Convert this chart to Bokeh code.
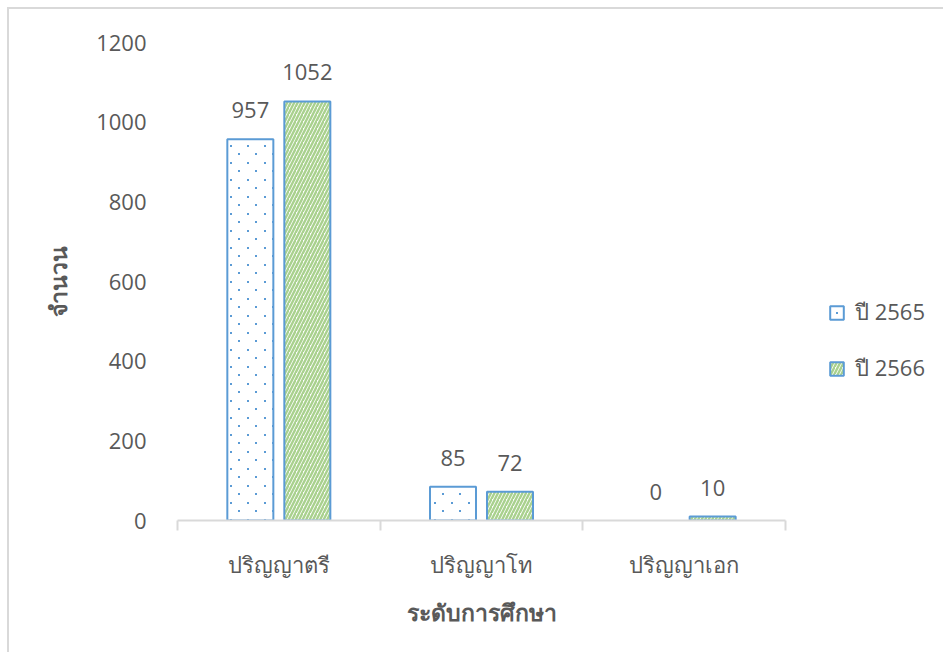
from bokeh.plotting import figure
from bokeh.models import (ColumnDataSource, Range1d, FixedTicker, Legend, LegendItem,
                          LabelSet, SingleIntervalTicker, CanvasTexture, Title)
from bokeh.core.properties import value
from bokeh.embed import file_html
from bokeh.resources import INLINE

categories = ["ปริญญาตรี", "ปริญญาโท", "ปริญญาเอก"]
series_names = ["ปี 2565", "ปี 2566"]
y2565 = [957, 85, 0]
y2566 = [1052, 72, 10]
x_title = "ระดับการศึกษา"
y_title = "จำนวน"

FONT = "Open Sans"
TXT = "#595959"
GRID = "#d9d9d9"
BLUE = "#5b9bd5"
GREEN = "#a9d18e"

centers = [i + 0.5 for i in range(len(categories))]
off = 0.1406
bw = 0.227

src1 = ColumnDataSource(dict(x=[c - off for c in centers], top=y2565,
                             la=[1 if v > 0 else 0 for v in y2565],
                             hp=["dots"] * len(y2565),
                             lbl=[str(v) for v in y2565]))
src2 = ColumnDataSource(dict(x=[c + off for c in centers], top=y2566,
                             la=[1 if v > 0 else 0 for v in y2566],
                             lbl=[str(v) for v in y2566]))

W, H = 936, 645
FL, FT, FB = 168, 33, 511          # frame left / top / bottom in canvas px
CAT_PX = 608                        # width in px taken by the 3 categories
x_end = 3 * (W - FL) / CAT_PX

p = figure(width=W, height=H, output_backend="svg", toolbar_location=None,
           x_range=Range1d(0, x_end), y_range=Range1d(0, 1200),
           min_border_left=FL, min_border_right=0,
           min_border_top=FT, min_border_bottom=H - FB)
p.styles = {"margin-left": "7px", "margin-top": "7px",
            "border-left": "2px solid #d9d9d9", "border-top": "2px solid #d9d9d9"}
p.outline_line_color = None
p.background_fill_color = "white"
p.border_fill_color = "white"

dots = CanvasTexture(code="""
var cands = [ctx, color, scale, weight, this];
var c = null;
for (var k = 0; k < cands.length; k++) {
  var o = cands[k];
  if (o && typeof o.fillRect === "function") { c = o; break; }
  if (o && o.ctx && typeof o.ctx.fillRect === "function") { c = o.ctx; break; }
}
if (c) {
  if (c.canvas && c.canvas.width !== 17) { try { c.canvas.width = 17; c.canvas.height = 17; } catch (e) {} }
  c.clearRect(0, 0, 17, 17);
  c.fillStyle = "#5b9bd5";
  c.fillRect(0, 0, 2, 2);
  c.fillRect(8, 8, 2, 2);
}
""", repetition="repeat")

r1 = p.vbar(x="x", top="top", width=bw, source=src1, fill_color="white",
            line_color=BLUE, line_width=2, line_alpha="la",
            hatch_pattern="hp", hatch_extra={"dots": dots},
            hatch_color=BLUE, hatch_scale=17, hatch_weight=1)
r2 = p.vbar(x="x", top="top", width=bw, source=src2, fill_color="white",
            line_color=BLUE, line_width=2, line_alpha="la",
            hatch_pattern="/", hatch_color=GREEN, hatch_scale=7, hatch_weight=2.4)

for s in (src1, src2):
    p.add_layout(LabelSet(x="x", y="top", text="lbl", source=s, text_align="center",
                          text_baseline="middle", y_offset=29, text_font=value(FONT),
                          text_font_size=value("22px"), text_color=TXT))

# x axis
p.xaxis.bounds = (0, 3)
p.xaxis.ticker = FixedTicker(ticks=centers, minor_ticks=[0, 1, 2, 3])
p.xaxis.major_label_overrides = {c: lab for c, lab in zip(centers, categories)}
p.xaxis.major_tick_line_color = None
p.xaxis.major_tick_out = 0
p.xaxis.major_tick_in = 0
p.xaxis.minor_tick_line_color = GRID
p.xaxis.minor_tick_line_width = 2
p.xaxis.minor_tick_out = 10
p.xaxis.minor_tick_in = 0
p.xaxis.axis_line_color = GRID
p.xaxis.axis_line_width = 2
p.xaxis.major_label_text_font = FONT
p.xaxis.major_label_text_font_size = "22px"
p.xaxis.major_label_text_color = TXT
p.xaxis.major_label_standoff = 18

xt = Title(text=x_title, align="left", offset=229, standoff=24,
           text_font=FONT, text_font_size="23px", text_font_style="bold",
           text_color=TXT)
p.add_layout(xt, "below")

# y axis
p.yaxis.ticker = SingleIntervalTicker(interval=200)
p.yaxis.axis_line_color = None
p.yaxis.major_tick_line_color = None
p.yaxis.minor_tick_line_color = None
p.yaxis.major_tick_out = 0
p.yaxis.major_label_standoff = 27
p.yaxis.major_label_text_font = FONT
p.yaxis.major_label_text_font_size = "22px"
p.yaxis.major_label_text_color = TXT
p.yaxis.axis_label = y_title
p.yaxis.axis_label_text_font = FONT
p.yaxis.axis_label_text_font_size = "23px"
p.yaxis.axis_label_text_font_style = "bold"
p.yaxis.axis_label_text_color = TXT
p.yaxis.axis_label_standoff = 19

p.xgrid.grid_line_color = None
p.ygrid.grid_line_color = GRID
p.ygrid.grid_line_width = 1
p.ygrid.bounds = (0, 3)

legend = Legend(items=[LegendItem(label=series_names[0], renderers=[r1]),
                       LegendItem(label=series_names[1], renderers=[r2])],
                location=(651, 134), orientation="vertical",
                label_text_font=FONT, label_text_font_size="22px", label_text_color=TXT,
                glyph_width=17, glyph_height=17, label_standoff=10, spacing=21,
                padding=0, margin=0, border_line_color=None, background_fill_alpha=0)
p.add_layout(legend)

open("out.html", "w").write(file_html(p, INLINE))
